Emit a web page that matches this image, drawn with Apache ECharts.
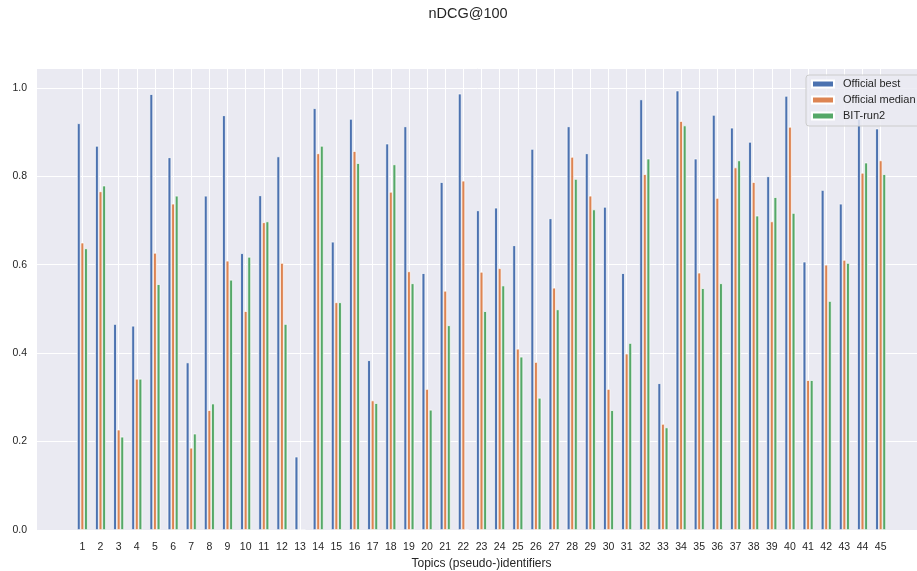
<!DOCTYPE html>
<html>
<head>
<meta charset="utf-8">
<script src="https://cdn.jsdelivr.net/npm/echarts@6/dist/echarts.min.js"></script>
<style>
    html, body { margin: 0; padding: 0; background: #fff; }
    #chart { width: 917px; height: 571px; }
</style>
</head>
<body>
<div id="chart"></div>
<script>
    const topics = ['1', '2', '3', '4', '5', '6', '7', '8', '9', '10', '11', '12', '13', '14', '15',
        '16', '17', '18', '19', '20', '21', '22', '23', '24', '25', '26', '27', '28', '29', '30',
        '31', '32', '33', '34', '35', '36', '37', '38', '39', '40', '41', '42', '43', '44', '45']
    const officialBest = [0.920, 0.869, 0.466, 0.462, 0.986, 0.843, 0.379, 0.756, 0.938, 0.626,
        0.757, 0.845, 0.166, 0.954, 0.652, 0.930, 0.384, 0.874, 0.913, 0.581,
        0.787, 0.987, 0.723, 0.729, 0.644, 0.862, 0.705, 0.913, 0.852, 0.731,
        0.581, 0.974, 0.332, 0.994, 0.840, 0.939, 0.910, 0.878, 0.800, 0.982,
        0.607, 0.769, 0.738, 0.930, 0.908]
    const officialMedian = [0.650, 0.766, 0.227, 0.342, 0.627, 0.738, 0.186, 0.271, 0.609, 0.495,
        0.696, 0.604, 0, 0.852, 0.515, 0.857, 0.293, 0.765, 0.585, 0.319,
        0.541, 0.790, 0.584, 0.592, 0.410, 0.380, 0.548, 0.844, 0.756, 0.319,
        0.399, 0.805, 0.240, 0.925, 0.582, 0.751, 0.820, 0.787, 0.698, 0.912,
        0.339, 0.600, 0.611, 0.808, 0.836]
    const bitRun2 = [0.637, 0.779, 0.211, 0.342, 0.556, 0.756, 0.218, 0.286, 0.566, 0.618,
        0.698, 0.466, 0, 0.869, 0.515, 0.830, 0.287, 0.827, 0.558, 0.272,
        0.463, 0, 0.495, 0.553, 0.392, 0.299, 0.499, 0.794, 0.725, 0.271,
        0.423, 0.840, 0.232, 0.915, 0.547, 0.558, 0.836, 0.711, 0.753, 0.717,
        0.339, 0.518, 0.604, 0.831, 0.805]
    const yTicks = [0, 0.2, 0.4, 0.6, 0.8, 1.0]

    // empty slots on both sides, so the first topic sits where matplotlib put it
    const padLeft = ['_a', '_b']
    const padRight = ['_c', '_d']
    const categories = padLeft.concat(topics, padRight)
    const pad = (arr) => padLeft.map(() => null).concat(arr, padRight.map(() => null))

    const font = 'Liberation Sans, Arial, sans-serif'
    const textColor = '#262626'

    const chart = echarts.init(document.getElementById('chart'))

    const barSeries = (name, data, color) => ({
        name: name,
        type: 'bar',
        data: pad(data),
        barWidth: 3.6,
        barGap: '0%',
        itemStyle: {
            color: color,
            borderColor: '#ffffff',
            borderWidth: 0.7
        }
    })

    chart.setOption({
        animation: false,
        textStyle: { fontFamily: font },
        title: {
            text: 'nDCG@100',
            left: 468,
            top: 6,
            padding: 0,
            textAlign: 'center',
            textStyle: { fontSize: 14.5, fontWeight: 'normal', color: textColor, fontFamily: font }
        },
        legend: {
            orient: 'vertical',
            left: 806,
            top: 75,
            padding: [3, 8, 4, 5],
            itemWidth: 22,
            itemHeight: 7,
            itemGap: 4,
            icon: 'rect',
            backgroundColor: 'rgba(234, 234, 242, 0.85)',
            borderColor: '#cccccc',
            borderWidth: 1,
            borderRadius: 3,
            z: 10,
            textStyle: { fontSize: 11, color: textColor, fontFamily: font, lineHeight: 12, padding: [0, 0, 0, 4] },
            data: ['Official best', 'Official median', 'BIT-run2']
        },
        grid: {
            left: 37,
            top: 68,
            width: 889,
            bottom: 41,
            outerBoundsMode: 'none',
            show: true,
            backgroundColor: '#EAEAF2',
            borderWidth: 0
        },
        xAxis: {
            type: 'category',
            data: categories,
            name: 'Topics (pseudo-)identifiers',
            nameLocation: 'middle',
            nameGap: 26,
            nameTextStyle: { fontSize: 12, color: textColor, fontFamily: font },
            axisLine: { show: false },
            axisTick: { show: false },
            axisLabel: {
                interval: 0,
                margin: 12,
                fontSize: 10.5,
                color: textColor,
                formatter: (v) => topics.indexOf(v) >= 0 ? v : ''
            },
            splitLine: {
                show: true,
                alignWithLabel: true,
                interval: (i, v) => topics.indexOf(v) >= 0,
                lineStyle: { color: '#ffffff', width: 1 }
            }
        },
        yAxis: {
            type: 'value',
            min: 0,
            max: 1.045,
            interval: 0.2,
            axisLine: { show: false },
            axisTick: { show: false },
            axisLabel: {
                margin: 10,
                fontSize: 10.5,
                color: textColor,
                formatter: (v) => {
                    const t = yTicks.find((k) => Math.abs(k - v) < 1e-6)
                    return t === undefined ? '' : t.toFixed(1)
                }
            },
            splitLine: { lineStyle: { color: '#ffffff', width: 1 } }
        },
        series: [
            barSeries('Official best', officialBest, '#4C72B0'),
            barSeries('Official median', officialMedian, '#DD8452'),
            barSeries('BIT-run2', bitRun2, '#55A868')
        ]
    })
</script>
</body>
</html>
